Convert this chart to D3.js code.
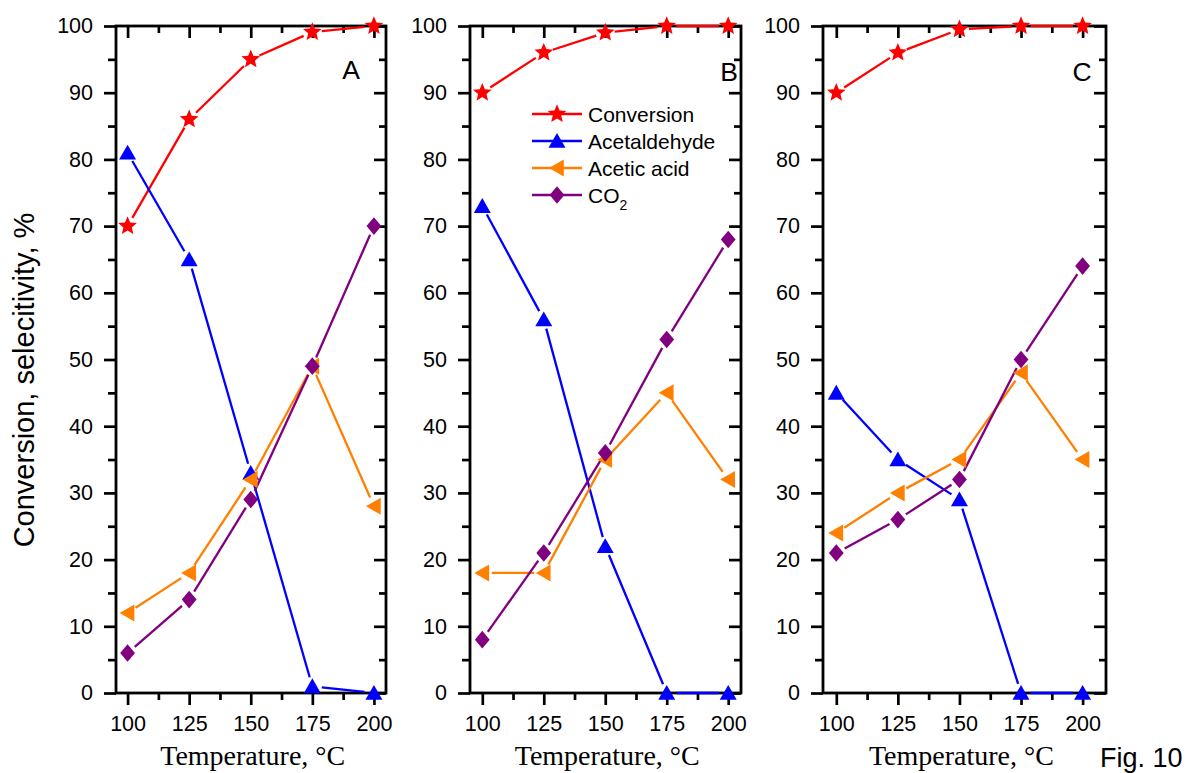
<!DOCTYPE html>
<html>
<head>
<meta charset="utf-8">
<script src="https://cdn.jsdelivr.net/npm/d3@7"></script>
<style>
  body { margin: 0; background: #fff; }
  svg { display: block; }
</style>
</head>
<body>
<svg id="chart" width="1191" height="773"></svg>
<script>
// ---- data -------------------------------------------------------------
const temperatures = [100, 125, 150, 175, 200];
const xTickValues = [100, 125, 150, 175, 200];
const xMinorTicks = [112.5, 137.5, 162.5, 187.5];
const yTickValues = [0, 10, 20, 30, 40, 50, 60, 70, 80, 90, 100];
const yMinorTicks = [5, 15, 25, 35, 45, 55, 65, 75, 85, 95];
const seriesNames = ["Conversion", "Acetaldehyde", "Acetic acid", "CO2"];
const panelNames = ["A", "B", "C"];

const conversionA   = [70, 86, 95, 99.1, 100];
const acetaldehydeA = [81, 65, 33, 1, 0];
const aceticAcidA   = [12, 18, 32, 49, 28];
const co2A          = [6, 14, 29, 49, 70];

const conversionB   = [90, 96, 99, 100, 100];
const acetaldehydeB = [73, 56, 22, 0, 0];
const aceticAcidB   = [18, 18, 35, 45, 32];
const co2B          = [8, 21, 36, 53, 68];

const conversionC   = [90, 96, 99.5, 100, 100];
const acetaldehydeC = [45, 35, 29, 0, 0];
const aceticAcidC   = [24, 30, 35, 48, 35];
const co2C          = [21, 26, 32, 50, 64];

const panelSeries = [
  [conversionA, acetaldehydeA, aceticAcidA, co2A],
  [conversionB, acetaldehydeB, aceticAcidB, co2B],
  [conversionC, acetaldehydeC, aceticAcidC, co2C]
];

// ---- layout & style ----------------------------------------------------
const SANS = "'Liberation Sans', Arial, sans-serif";
const SERIF = "'Liberation Serif', 'Times New Roman', serif";
const colors = ["#ff0000", "#0000ff", "#ff8000", "#800080"];
const markerKinds = ["star", "triangleUp", "triangleLeft", "diamond"];

const panelLayout = [
  { left: 116, right: 386, domain: [95.3, 204.9], letterX: 351, letterY: 79 },
  { left: 470, right: 741, domain: [95.0, 205.2], letterX: 729, letterY: 81 },
  { left: 823, right: 1106, domain: [94.6, 209.5], letterX: 1082, letterY: 81 }
];
const plotTop = 26, plotBottom = 693;

const svg = d3.select("#chart");
const y = d3.scaleLinear().domain([0, 100]).range([plotBottom, plotTop]);

function markerPath(kind) {
  const p = d3.path();
  if (kind === "star") {
    const R = 9.8, r = 4.4;
    for (let i = 0; i < 10; i++) {
      const a = -Math.PI / 2 + i * Math.PI / 5;
      const rad = i % 2 === 0 ? R : r;
      const px = rad * Math.cos(a), py = rad * Math.sin(a);
      if (i === 0) p.moveTo(px, py); else p.lineTo(px, py);
    }
  } else if (kind === "triangleUp") {
    p.moveTo(0, -8); p.lineTo(8.5, 6.8); p.lineTo(-8.5, 6.8);
  } else if (kind === "triangleLeft") {
    p.moveTo(-8, 0); p.lineTo(6.8, -8.5); p.lineTo(6.8, 8.5);
  } else {
    p.moveTo(0, -8.8); p.lineTo(7.4, 0); p.lineTo(0, 8.8); p.lineTo(-7.4, 0);
  }
  p.closePath();
  return p.toString();
}

function styleAxis(g) {
  g.select(".domain").remove();
  g.selectAll(".tick line").attr("stroke", "#000").attr("stroke-width", 2.7);
  g.selectAll(".tick text")
    .attr("fill", "#000")
    .style("font-family", SANS)
    .style("font-size", "21.5px");
}

panelLayout.forEach((pl, pi) => {
  const x = d3.scaleLinear().domain(pl.domain).range([pl.left, pl.right]);
  const g = svg.append("g");

  // frame
  g.append("rect")
    .attr("x", pl.left).attr("y", plotTop)
    .attr("width", pl.right - pl.left).attr("height", plotBottom - plotTop)
    .attr("fill", "none").attr("stroke", "#000").attr("stroke-width", 2.8);

  // bottom axis (outward ticks with labels)
  g.append("g").attr("transform", `translate(0,${plotBottom})`)
    .call(d3.axisBottom(x).tickValues(xTickValues).tickSize(12).tickPadding(11).tickSizeOuter(0))
    .call(styleAxis);
  g.append("g").attr("transform", `translate(0,${plotBottom})`)
    .call(d3.axisBottom(x).tickValues(xMinorTicks).tickSize(7).tickFormat(() => "").tickSizeOuter(0))
    .call(styleAxis);

  // top axis (inward ticks)
  g.append("g").attr("transform", `translate(0,${plotTop})`)
    .call(d3.axisTop(x).tickValues(xTickValues).tickSize(-12).tickFormat(() => "").tickSizeOuter(0))
    .call(styleAxis);
  g.append("g").attr("transform", `translate(0,${plotTop})`)
    .call(d3.axisTop(x).tickValues(xMinorTicks).tickSize(-7).tickFormat(() => "").tickSizeOuter(0))
    .call(styleAxis);

  // left axis (outward ticks with labels)
  g.append("g").attr("transform", `translate(${pl.left},0)`)
    .call(d3.axisLeft(y).tickValues(yTickValues).tickSize(12).tickPadding(11).tickSizeOuter(0))
    .call(styleAxis);
  g.append("g").attr("transform", `translate(${pl.left},0)`)
    .call(d3.axisLeft(y).tickValues(yMinorTicks).tickSize(8).tickFormat(() => "").tickSizeOuter(0))
    .call(styleAxis);

  // right axis (inward ticks)
  g.append("g").attr("transform", `translate(${pl.right},0)`)
    .call(d3.axisRight(y).tickValues(yTickValues).tickSize(-12).tickFormat(() => "").tickSizeOuter(0))
    .call(styleAxis);
  g.append("g").attr("transform", `translate(${pl.right},0)`)
    .call(d3.axisRight(y).tickValues(yMinorTicks).tickSize(-7).tickFormat(() => "").tickSizeOuter(0))
    .call(styleAxis);

  // x axis title
  g.append("text")
    .attr("x", x(150) + 2).attr("y", 765)
    .attr("text-anchor", "middle")
    .style("font-family", SERIF).style("font-size", "28px")
    .text("Temperature, \u00B0C");

  // panel letter
  g.append("text")
    .attr("x", pl.letterX).attr("y", pl.letterY)
    .attr("text-anchor", "middle")
    .style("font-family", SANS).style("font-size", "26.5px")
    .text(panelNames[pi]);

  // series: line segments stop short of the markers
  const trim = 9.5;
  panelSeries[pi].forEach((values, si) => {
    const pts = values.map((v, i) => [x(temperatures[i]), y(v)]);
    const segs = [];
    for (let i = 0; i < pts.length - 1; i++) {
      const [x0, y0] = pts[i], [x1, y1] = pts[i + 1];
      const len = Math.hypot(x1 - x0, y1 - y0);
      if (len <= 2 * trim) continue;
      const ux = (x1 - x0) / len, uy = (y1 - y0) / len;
      segs.push([[x0 + ux * trim, y0 + uy * trim], [x1 - ux * trim, y1 - uy * trim]]);
    }
    g.append("g").selectAll("path").data(segs).join("path")
      .attr("d", d => d3.line()(d))
      .attr("fill", "none")
      .attr("stroke", colors[si])
      .attr("stroke-width", 2.3);
  });
  panelSeries[pi].forEach((values, si) => {
    g.append("g").selectAll("path").data(values).join("path")
      .attr("transform", (v, i) => `translate(${x(temperatures[i])},${y(v)})`)
      .attr("d", markerPath(markerKinds[si]))
      .attr("fill", colors[si]);
  });
});

// legend (inside panel B)
const legend = svg.append("g");
const legendRows = [114, 141, 168, 195];
seriesNames.forEach((name, i) => {
  const ry = legendRows[i];
  legend.append("line")
    .attr("x1", 532).attr("x2", 582).attr("y1", ry).attr("y2", ry)
    .attr("stroke", colors[i]).attr("stroke-width", 2.3);
  legend.append("path")
    .attr("transform", `translate(557,${ry})`)
    .attr("d", markerPath(markerKinds[i]))
    .attr("fill", colors[i]);
  const t = legend.append("text")
    .attr("x", 588).attr("y", ry + 7.5)
    .style("font-family", SANS).style("font-size", "21px");
  if (name === "CO2") {
    t.append("tspan").text("CO");
    t.append("tspan").attr("dy", 7).style("font-size", "14px").text("2");
  } else {
    t.text(name);
  }
});

// y axis title
svg.append("text")
  .attr("transform", "translate(34,380) rotate(-90)")
  .attr("text-anchor", "middle")
  .style("font-family", SANS).style("font-size", "29px")
  .text("Conversion, selecitivity, %");

// figure number
svg.append("text")
  .attr("x", 1100).attr("y", 767)
  .style("font-family", SANS).style("font-size", "27px")
  .text("Fig. 10");
</script>
</body>
</html>
